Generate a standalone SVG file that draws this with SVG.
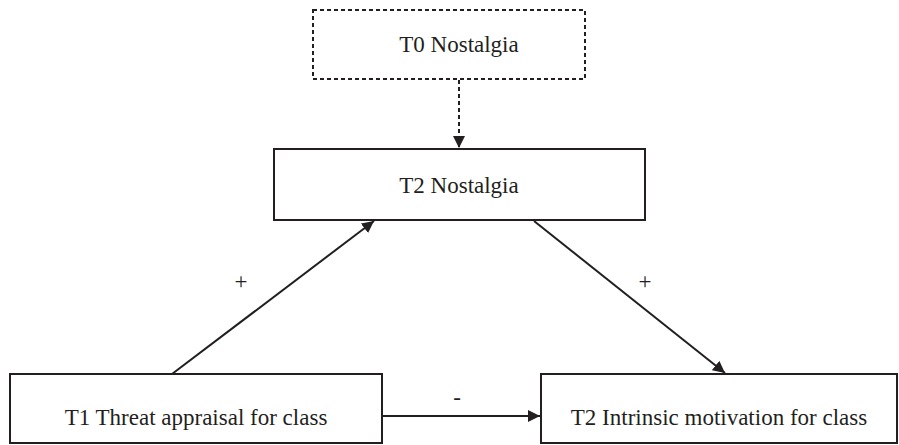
<svg xmlns="http://www.w3.org/2000/svg" width="899" height="445" viewBox="0 0 899 445">
<style>
.box{fill:#fff;stroke:#231f20;stroke-width:2}
.dash{fill:#fff;stroke:#231f20;stroke-width:2;stroke-dasharray:4 3}
.lbl{font-family:"Liberation Serif","Times New Roman",serif;font-size:23px;fill:#231f20;text-anchor:middle}
.edge{stroke:#231f20;stroke-width:2;fill:none;marker-end:url(#ah)}
</style>
<defs>
<marker id="ah" viewBox="0 0 10 10" refX="10" refY="5" markerWidth="6" markerHeight="6" markerUnits="strokeWidth" orient="auto">
<path d="M0,0 L10,5 L0,10 z" fill="#231f20"/>
</marker>
</defs>
<g id="connectors">
<line class="edge" x1="459" y1="80" x2="459" y2="148" style="stroke-dasharray:4 3"/>
<line class="edge" x1="172" y1="374" x2="374" y2="221"/>
<line class="edge" x1="534" y1="221" x2="725" y2="373"/>
<line class="edge" x1="382" y1="416" x2="540" y2="416"/>
<text class="lbl" x="241" y="289">+</text>
<text class="lbl" x="645" y="289">+</text>
<text class="lbl" x="457" y="405">-</text>
</g>
<g id="t0">
<rect class="dash" x="313" y="10" width="272" height="69"/>
<text class="lbl" x="459" y="52">T0 Nostalgia</text>
</g>
<g id="t2n">
<rect class="box" x="274" y="149" width="371" height="71"/>
<text class="lbl" x="459" y="193">T2 Nostalgia</text>
</g>
<g id="t1">
<rect class="box" x="10" y="374" width="372" height="69"/>
<text class="lbl" x="196" y="425">T1 Threat appraisal for class</text>
</g>
<g id="t2m">
<rect class="box" x="541" y="374" width="356" height="69"/>
<text class="lbl" x="719" y="425">T2 Intrinsic motivation for class</text>
</g>
</svg>
